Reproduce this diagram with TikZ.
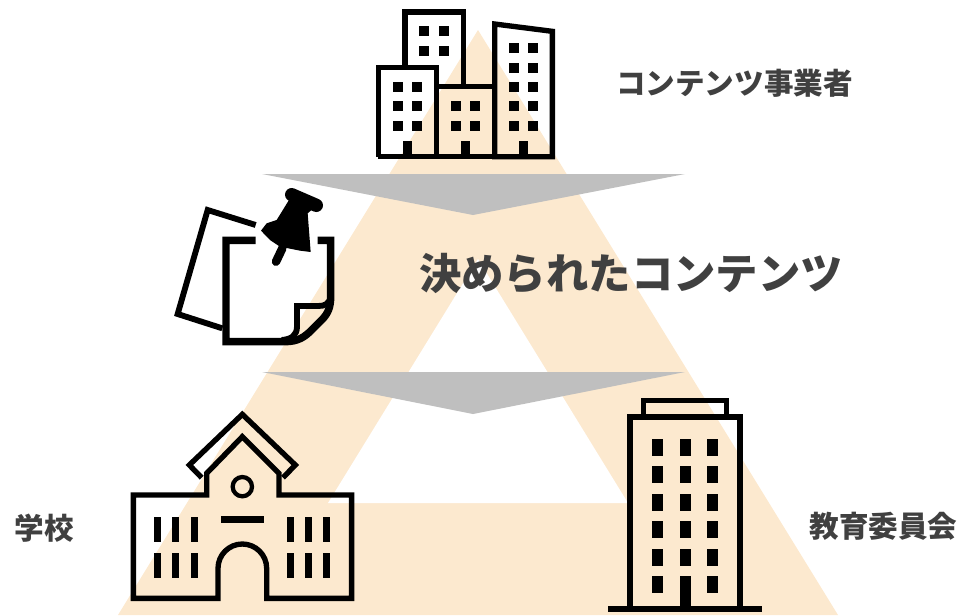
\documentclass[tikz,border=0pt]{standalone}
\usepackage{fontspec}
\newfontfamily\cjk{Noto Sans CJK JP}
\definecolor{peach}{HTML}{FCE9CF}
\definecolor{arrowgray}{HTML}{BFBFBF}
\definecolor{labelgray}{HTML}{404040}
\begin{document}
\begin{tikzpicture}[x=0.75pt,y=-0.75pt,
  lbl/.style={font=\cjk\bfseries\fontsize{22.2}{26}\selectfont,text=labelgray,inner sep=0pt,anchor=center},
  biglbl/.style={font=\cjk\bfseries\fontsize{31.8}{36}\selectfont,text=labelgray,inner sep=0pt,anchor=center},
  icon/.style={draw=black,line width=4pt,miter limit=10},
  win/.style={fill=black,draw=none}]
\useasboundingbox (0,0) rectangle (961,615);
% pyramid
\fill[peach] (478,30) -- (838,615) -- (118,615) -- cycle;
\fill[white] (478,259) -- (628,503) -- (328,503) -- cycle;
% gray arrows
\fill[arrowgray] (262,174) -- (685,174) -- (473,215) -- cycle;
\fill[arrowgray] (262,372) -- (685,372) -- (473,414) -- cycle;
% company buildings
\begin{scope}[shift={(360,0)},scale=1/3]
  \draw[icon] (135,203) -- (135,36) -- (310,36) -- (310,260);
  \draw[icon] (55,470) -- (55,203) -- (230,203) -- (230,470);
  \draw[icon] (230,260) -- (404,260);
  \draw[icon] (404,470) -- (404,72) -- (577,94) -- (577,470) -- cycle;
  \draw[icon] (55,470) -- (577,470);
  \foreach \xa in {178,237} \foreach \ya in {78,137}
    \fill[win] (\xa,\ya) rectangle ++(30,30);
  \foreach \xa in {100,157} \foreach \ya in {246,303,362}
    \fill[win] (\xa,\ya) rectangle ++(30,30);
  \foreach \xa in {273,330} \foreach \ya in {303,362}
    \fill[win] (\xa,\ya) rectangle ++(30,30);
  \foreach \xa in {447,504} \foreach \ya in {128,188,246,303,362}
    \fill[win] (\xa,\ya) rectangle ++(30,30);
  \foreach \xa in {128,302,476}
    \fill[win] (\xa,422) rectangle ++(29,50);
\end{scope}
% note with pin
\begin{scope}[shift={(165,180)},scale=1/3]
  \draw[draw=black,line width=4.4pt] (272,135) -- (128,90) -- (38,402) -- (172,445);
  \draw[draw=black,line width=5.6pt] (272,181) -- (183,181) -- (183,485) -- (360,485)
     .. controls (400,485) and (420,470) .. (440,450) -- (470,420)
     .. controls (490,400) and (497,380) .. (497,350) -- (497,181) -- (458,181);
  \draw[draw=black,line width=4.4pt] (350,480) .. controls (380,478) and (396,465) .. (396,440) -- (396,378) -- (460,378)
     .. controls (480,378) and (492,372) .. (497,350);
  \draw[black,line width=10pt,line cap=round] (380,44) -- (454,76);
  \fill[black] (372,60) -- (445,85) -- (428,100) -- (437,216) -- (405,212)
     -- (345,200) -- (315,180) -- (288,152) -- (305,130) -- (335,120) -- cycle;
  \draw[black,line width=6.4pt,line cap=round] (352,205) -- (333,245);
\end{scope}
% school
\begin{scope}[shift={(120,405)},scale=1/3]
  \draw[icon] (40,270) -- (260,270) -- (260,205) -- (367,95) -- (477,205) -- (477,270)
     -- (695,270) -- (695,580) -- (440,580) -- (440,490)
     arc[start angle=0,end angle=-180,radius=73] -- (294,580) -- (40,580) -- cycle;
  \draw[icon] (245,218) -- (208,180) -- (367,28) -- (526,180) -- (489,218);
  \draw[draw=black,line width=3.2pt] (367,245) circle[radius=29];
  \fill[win] (303,333) rectangle (432,354);
  \foreach \xa in {102,156,213,501,555,609} \foreach \ya in {336,444}
    \fill[win] (\xa,\ya) rectangle ++(21,74);
\end{scope}
% tower
\begin{scope}[shift={(600,390)},scale=1/3]
  \draw[icon] (90,655) -- (90,81) -- (420,81) -- (420,655);
  \draw[icon] (131,81) -- (131,32) -- (379,32) -- (379,81);
  \fill[win] (25,649) rectangle (486,665);
  \foreach \xa in {156,240,321} \foreach \ya in {147,228,312,393,477}
    \fill[win] (\xa,\ya) rectangle ++(33,50);
  \fill[win] (156,558) rectangle ++(33,50);
  \fill[win] (321,558) rectangle ++(33,50);
  \fill[win] (240,558) rectangle (273,650);
\end{scope}
% labels
\node[lbl] (provider) at (734.5,83) {コンテンツ事業者};
\node[biglbl] (content) at (631,273) {決められたコンテンツ};
\node[lbl] (school) at (44,528) {学校};
\node[lbl] (board) at (883.5,526) {教育委員会};
\end{tikzpicture}
\end{document}
